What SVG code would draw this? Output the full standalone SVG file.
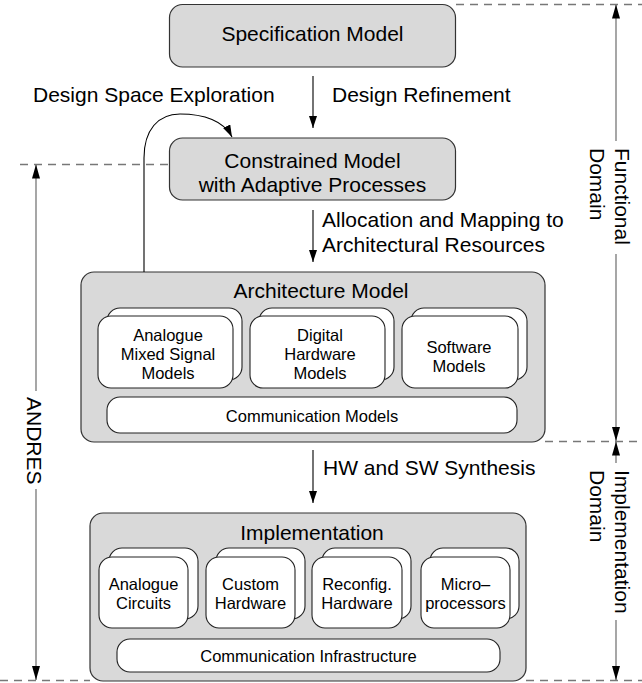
<svg xmlns="http://www.w3.org/2000/svg" width="642" height="683" viewBox="0 0 642 683">
<style>
  text { font-family: "Liberation Sans", Arial, Helvetica, sans-serif; fill: #000; }
  .big { font-size: 21px; }
  .small { font-size: 16.5px; }
  .mid { text-anchor: middle; }
  .gbox { fill: #d9d9d9; stroke: #333; stroke-width: 1.2; }
  .wbox { fill: #fff; stroke: #222; stroke-width: 1.1; }
  .dash { stroke: #777; stroke-width: 1.3; stroke-dasharray: 8 6; fill: none; }
  .arrow { stroke: #000; stroke-width: 1.1; fill: none; marker-end: url(#ah); }
  .dim { stroke: #777; stroke-width: 1.3; fill: none; }
</style>
<defs>
  <marker id="ah" viewBox="0 0 12 8" refX="12" refY="4" markerWidth="12" markerHeight="8" markerUnits="userSpaceOnUse" orient="auto">
    <path d="M0,0 L12,4 L0,8 z" fill="#000"/>
  </marker>
  <marker id="dh" viewBox="0 0 14 8" refX="14" refY="4" markerWidth="14" markerHeight="8" markerUnits="userSpaceOnUse" orient="auto-start-reverse">
    <path d="M0,0 L14,4 L0,8 z" fill="#000"/>
  </marker>
</defs>

<g id="guides">
  <line class="dash" x1="456" y1="4.5" x2="642" y2="4.5"/>
  <line class="dash" x1="20" y1="164.5" x2="169" y2="164.5"/>
  <line class="dash" x1="545" y1="441.5" x2="642" y2="441.5"/>
  <line class="dash" x1="0" y1="680.5" x2="90" y2="680.5"/>
  <line class="dash" x1="526" y1="680.5" x2="642" y2="680.5"/>
</g>

<g id="spec">
  <rect class="gbox" x="169.5" y="4.5" width="286" height="62.5" rx="13"/>
  <text class="big mid" x="312.5" y="41">Specification Model</text>
</g>

<g id="constrained">
  <rect class="gbox" x="169.5" y="138" width="286" height="62" rx="13"/>
  <text class="big mid" x="312.5" y="168">Constrained Model</text>
  <text class="big mid" x="312.5" y="192">with Adaptive Processes</text>
</g>

<g id="architecture">
  <rect class="gbox" x="81" y="272" width="464" height="170" rx="13"/>
  <text class="big mid" x="321" y="298">Architecture Model</text>
  <g id="ams">
    <rect class="wbox" x="107" y="308" width="135" height="72" rx="13"/>
    <rect class="wbox" x="98" y="316" width="135" height="72" rx="13"/>
    <text class="small mid" x="168" y="341">Analogue</text>
    <text class="small mid" x="168" y="360">Mixed Signal</text>
    <text class="small mid" x="168" y="379">Models</text>
  </g>
  <g id="dhw">
    <rect class="wbox" x="259" y="308" width="135" height="72" rx="13"/>
    <rect class="wbox" x="250" y="316" width="135" height="72" rx="13"/>
    <text class="small mid" x="320" y="341">Digital</text>
    <text class="small mid" x="320" y="360">Hardware</text>
    <text class="small mid" x="320" y="379">Models</text>
  </g>
  <g id="sw">
    <rect class="wbox" x="411" y="308" width="116" height="72" rx="13"/>
    <rect class="wbox" x="402" y="316" width="116" height="72" rx="13"/>
    <text class="small mid" x="459" y="353">Software</text>
    <text class="small mid" x="459" y="372">Models</text>
  </g>
  <g id="commmodels">
    <rect class="wbox" x="107" y="397" width="410" height="36" rx="13"/>
    <text class="small mid" x="312" y="422">Communication Models</text>
  </g>
</g>

<g id="implementation">
  <rect class="gbox" x="90" y="513" width="436" height="168" rx="13"/>
  <text class="big mid" x="312" y="540">Implementation</text>
  <g id="analog">
    <rect class="wbox" x="109" y="548" width="89" height="71" rx="13"/>
    <rect class="wbox" x="99" y="557" width="89" height="71" rx="13"/>
    <text class="small mid" x="143.5" y="590">Analogue</text>
    <text class="small mid" x="143.5" y="609">Circuits</text>
  </g>
  <g id="custom">
    <rect class="wbox" x="216" y="548" width="89" height="71" rx="13"/>
    <rect class="wbox" x="206" y="557" width="89" height="71" rx="13"/>
    <text class="small mid" x="250.5" y="590">Custom</text>
    <text class="small mid" x="250.5" y="609">Hardware</text>
  </g>
  <g id="reconfig">
    <rect class="wbox" x="322" y="548" width="89" height="71" rx="13"/>
    <rect class="wbox" x="312" y="557" width="90" height="71" rx="13"/>
    <text class="small mid" x="357" y="590">Reconfig.</text>
    <text class="small mid" x="357" y="609">Hardware</text>
  </g>
  <g id="micro">
    <rect class="wbox" x="430" y="548" width="89" height="71" rx="13"/>
    <rect class="wbox" x="421" y="557" width="89" height="71" rx="13"/>
    <text class="small mid" x="465.5" y="590">Micro–</text>
    <text class="small mid" x="465.5" y="609">processors</text>
  </g>
  <g id="comminfra">
    <rect class="wbox" x="117" y="639" width="383" height="33" rx="13"/>
    <text class="small mid" x="308.5" y="662">Communication Infrastructure</text>
  </g>
</g>

<g id="connectors">
  <line class="arrow" x1="313" y1="76" x2="313" y2="128"/>
  <text class="big" x="332" y="102">Design Refinement</text>
  <text class="big" x="33" y="102">Design Space Exploration</text>
  <path class="arrow" d="M144,272 V158 C144,130 158,114 180,114 C204,114 224,121 232,137"/>
  <line class="arrow" x1="313" y1="210" x2="313" y2="262"/>
  <text class="big" x="322" y="227">Allocation and Mapping to</text>
  <text class="big" x="322" y="252">Architectural Resources</text>
  <line class="arrow" x1="313" y1="450" x2="313" y2="503"/>
  <text class="big" x="323" y="475">HW and SW Synthesis</text>
</g>

<g id="dimensions">
  <line class="dim" x1="616" y1="4.5" x2="616" y2="141" marker-start="url(#dh)"/>
  <line class="dim" x1="616" y1="254" x2="616" y2="441" marker-end="url(#dh)"/>
  <text class="big" transform="translate(615,148) rotate(90)">Functional</text>
  <text class="big" transform="translate(590,148) rotate(90)">Domain</text>
  <line class="dim" x1="616" y1="441.5" x2="616" y2="463" marker-start="url(#dh)"/>
  <line class="dim" x1="616" y1="620" x2="616" y2="680" marker-end="url(#dh)"/>
  <text class="big" transform="translate(615,470) rotate(90)">Implementation</text>
  <text class="big" transform="translate(590,470) rotate(90)">Domain</text>
  <line class="dim" x1="36" y1="164.5" x2="36" y2="391" marker-start="url(#dh)"/>
  <line class="dim" x1="36" y1="489" x2="36" y2="680" marker-end="url(#dh)"/>
  <text class="big" transform="translate(27,397) rotate(90)">ANDRES</text>
</g>
</svg>
